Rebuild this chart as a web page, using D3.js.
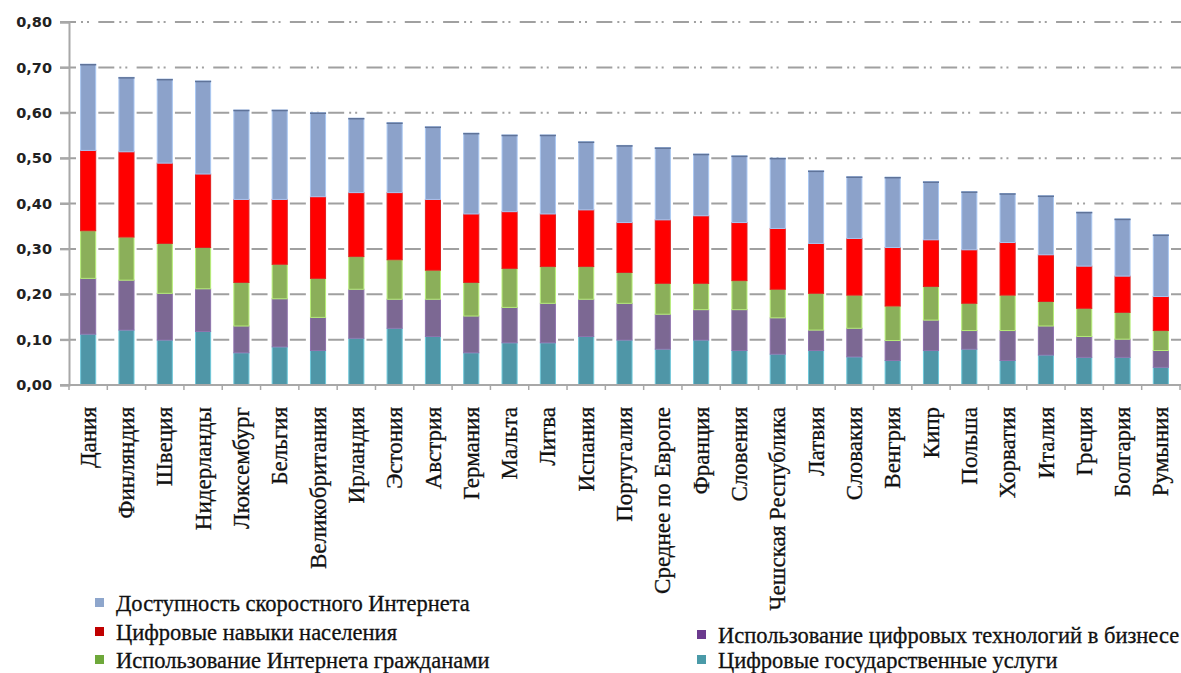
<!DOCTYPE html>
<html><head><meta charset="utf-8">
<script src="https://cdn.jsdelivr.net/npm/d3@7"></script>
<style>
html,body{margin:0;padding:0;background:#fff;}
svg{display:block;}
</style></head>
<body>
<svg id="chart" width="1181" height="673"></svg>
<script>
const categories = ["Дания","Финляндия","Швеция","Нидерланды","Люксембург","Бельгия","Великобритания","Ирландия","Эстония","Австрия","Германия","Мальта","Литва","Испания","Португалия","Среднее по Европе","Франция","Словения","Чешская Республика","Латвия","Словакия","Венгрия","Кипр","Польша","Хорватия","Италия","Греция","Болгария","Румыния"];

const govServices = [0.112,0.121,0.099,0.118,0.071,0.084,0.076,0.103,0.125,0.107,0.071,0.093,0.093,0.107,0.099,0.079,0.099,0.076,0.068,0.076,0.062,0.054,0.076,0.079,0.054,0.066,0.061,0.061,0.039];
const business    = [0.123,0.110,0.103,0.094,0.059,0.106,0.073,0.108,0.064,0.082,0.081,0.078,0.087,0.082,0.081,0.077,0.067,0.090,0.080,0.045,0.063,0.044,0.067,0.041,0.066,0.064,0.046,0.040,0.037];
const internetUse = [0.105,0.095,0.110,0.091,0.096,0.076,0.086,0.072,0.087,0.064,0.074,0.086,0.081,0.072,0.068,0.068,0.058,0.064,0.063,0.081,0.073,0.076,0.074,0.060,0.078,0.054,0.062,0.059,0.044];
const skills      = [0.177,0.188,0.177,0.162,0.183,0.143,0.180,0.141,0.148,0.156,0.151,0.125,0.116,0.125,0.110,0.140,0.149,0.128,0.134,0.110,0.125,0.129,0.103,0.118,0.116,0.103,0.093,0.080,0.075];
const broadband   = [0.190,0.164,0.185,0.205,0.197,0.197,0.185,0.164,0.154,0.160,0.178,0.169,0.174,0.150,0.170,0.159,0.136,0.147,0.155,0.160,0.136,0.155,0.128,0.128,0.108,0.130,0.119,0.126,0.136];

const seriesNames = ["Цифровые государственные услуги","Использование цифровых технологий в бизнесе","Использование Интернета гражданами","Цифровые навыки населения","Доступность скоростного Интернета"];
const yTicks = [0,0.1,0.2,0.3,0.4,0.5,0.6,0.7,0.8];

const seriesValues = [govServices, business, internetUse, skills, broadband];
const fills   = ["#4F96A7","#7C6893","#8BAF5A","#FF0000","#8CA2CA"];
const strokes = ["#6FC8DA","#8E73AD","#B6EE78","#E02020","#A9C7F2"];
const legendColors = ["#4A9AA8","#6B3A8E","#6EA83A","#C00000","#8EA6CC"];

const svg = d3.select("#chart");
const x0 = 69, x1 = 1180, yTop = 22, yBot = 385;

const x = d3.scaleBand().domain(categories).range([x0, x1]).paddingInner(0.58).paddingOuter(0.29);
const y = d3.scaleLinear().domain([0, 0.8]).range([yBot, yTop]);
const step = x.step();

// gridlines
const gridG = svg.append("g");
gridG.selectAll("line").data(yTicks.filter(d => d > 0)).join("line")
  .attr("x1", 60).attr("x2", 1181)
  .attr("y1", d => y(d)).attr("y2", d => y(d))
  .attr("stroke", "#A0A0A0").attr("stroke-width", 2)
  .attr("stroke-dasharray", `16,5,2,4,2,${(step - 29).toFixed(2)}`);

// y axis
const yAxis = d3.axisLeft(y).tickValues(yTicks).tickSize(9).tickPadding(8)
  .tickFormat(d => d3.format(".2f")(d).replace(".", ","));
const yg = svg.append("g").attr("transform", `translate(${x0},0)`).call(yAxis);
yg.select(".domain").attr("stroke", "#A8A8A8").attr("stroke-width", 2);
yg.selectAll(".tick line").attr("stroke", "#A8A8A8").attr("stroke-width", 2);
yg.selectAll(".tick text").attr("font-family", "DejaVu Sans").attr("font-weight", "bold")
  .attr("font-size", 14.5).attr("fill", "#222");

// stacked data
const stackData = categories.map((c, i) => {
  const o = {cat: c};
  seriesValues.forEach((s, k) => o["s" + k] = s[i]);
  return o;
});
const stack = d3.stack().keys(seriesValues.map((_, k) => "s" + k));
const layers = stack(stackData);

const barsG = svg.append("g");
layers.forEach((layer, k) => {
  barsG.append("g").selectAll("rect").data(layer).join("rect")
    .attr("x", d => x(d.data.cat) + 0.5)
    .attr("width", x.bandwidth() - 1)
    .attr("y", d => y(d[1]))
    .attr("height", d => y(d[0]) - y(d[1]))
    .attr("fill", fills[k])
    .attr("stroke", strokes[k]).attr("stroke-width", 1);
});
// dark top edge of the stacks
barsG.append("g").selectAll("line").data(layers[layers.length - 1]).join("line")
  .attr("x1", d => x(d.data.cat)).attr("x2", d => x(d.data.cat) + x.bandwidth())
  .attr("y1", d => y(d[1]) + 0.5).attr("y2", d => y(d[1]) + 0.5)
  .attr("stroke", "#5F7399").attr("stroke-width", 1.5);

// x axis
const xg = svg.append("g");
xg.append("line").attr("x1", 60).attr("x2", 1181).attr("y1", yBot).attr("y2", yBot)
  .attr("stroke", "#A8A8A8").attr("stroke-width", 2);
xg.selectAll("line.tk").data(d3.range(categories.length + 1)).join("line").attr("class", "tk")
  .attr("x1", i => x0 + i * step).attr("x2", i => x0 + i * step)
  .attr("y1", yBot).attr("y2", yBot + 5)
  .attr("stroke", "#A8A8A8").attr("stroke-width", 1.5);

// category labels
svg.append("g").selectAll("text").data(categories).join("text")
  .attr("transform", d => `translate(${x(d) + x.bandwidth() / 2},407) rotate(-90)`)
  .attr("dy", "0.33em")
  .attr("text-anchor", "end")
  .attr("font-family", "Liberation Serif").attr("font-size", 23).attr("fill", "#111")
  .attr("stroke", "#111").attr("stroke-width", 0.3)
  .text(d => d);

// legend
const legendItems = [
  {k: 4, x: 95, y: 603},
  {k: 3, x: 95, y: 632},
  {k: 2, x: 95, y: 660},
  {k: 1, x: 697, y: 635},
  {k: 0, x: 697, y: 660}
];
const lg = svg.append("g");
legendItems.forEach(it => {
  lg.append("rect").attr("x", it.x).attr("y", it.y - 5).attr("width", 9).attr("height", 9)
    .attr("fill", legendColors[it.k]);
  lg.append("text").attr("x", it.x + 21).attr("y", it.y).attr("dy", "0.35em")
    .attr("font-family", "Liberation Serif").attr("font-size", 22.5).attr("fill", "#111")
    .attr("stroke", "#111").attr("stroke-width", 0.3)
    .text(seriesNames[it.k]);
});
</script>
</body></html>
